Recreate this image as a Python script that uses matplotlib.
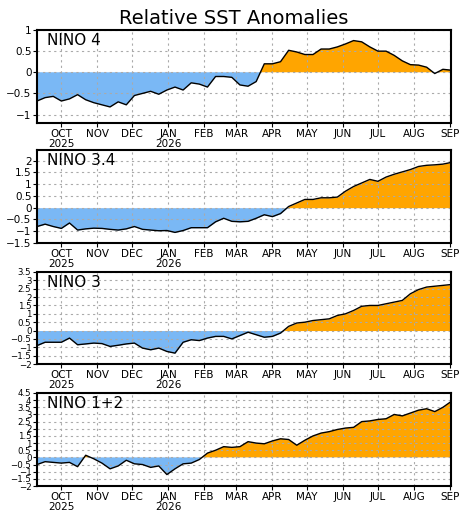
import matplotlib
matplotlib.use("Agg")
import matplotlib.pyplot as plt
import matplotlib.dates as mdates
import numpy as np
import pandas as pd

names = ["NINO 4", "NINO 3.4", "NINO 3", "NINO 1+2"]
nino4 = [-0.68,-0.6,-0.57,-0.68,-0.63,-0.53,-0.65,-0.72,-0.77,-0.82,-0.7,-0.77,-0.55,-0.5,-0.45,-0.52,-0.42,-0.35,-0.42,-0.25,-0.28,-0.35,-0.1,-0.1,-0.12,-0.3,-0.33,-0.22,0.2,0.2,0.25,0.52,0.48,0.42,0.42,0.55,0.55,0.6,0.67,0.75,0.72,0.6,0.5,0.5,0.4,0.27,0.18,0.17,0.12,-0.03,0.07,0.05]
nino34 = [-0.8,-0.7,-0.8,-0.88,-0.65,-0.95,-0.9,-0.87,-0.88,-0.92,-0.95,-0.9,-0.8,-0.92,-0.95,-0.98,-0.97,-1.05,-0.97,-0.85,-0.85,-0.85,-0.6,-0.45,-0.58,-0.6,-0.58,-0.45,-0.3,-0.38,-0.25,0.05,0.2,0.35,0.35,0.42,0.42,0.45,0.7,0.9,1.05,1.2,1.12,1.3,1.42,1.52,1.62,1.75,1.8,1.82,1.85,1.92]
nino3 = [-0.9,-0.7,-0.7,-0.7,-0.45,-0.85,-0.8,-0.75,-0.78,-0.95,-0.88,-0.8,-0.75,-1.05,-1.15,-1.05,-1.25,-1.35,-0.7,-0.55,-0.6,-0.45,-0.35,-0.35,-0.5,-0.3,-0.1,-0.25,-0.4,-0.35,-0.15,0.25,0.45,0.5,0.6,0.65,0.7,0.9,1.0,1.2,1.45,1.5,1.5,1.6,1.7,1.8,2.2,2.45,2.6,2.65,2.7,2.75]
nino12 = [-0.5,-0.3,-0.35,-0.4,-0.35,-0.65,0.15,-0.1,-0.4,-0.8,-0.6,-0.2,-0.45,-0.5,-0.7,-0.6,-1.2,-0.8,-0.45,-0.4,-0.15,0.3,0.5,0.75,0.7,0.75,1.1,1.0,0.95,1.15,1.3,1.25,0.85,1.2,1.5,1.7,1.8,1.95,2.05,2.1,2.5,2.55,2.65,2.7,3.0,2.9,3.1,3.3,3.4,3.2,3.5,3.9]
series = [nino4, nino34, nino3, nino12]
ylims = [(-1.2, 1.0), (-1.5, 2.45), (-2, 3.5), (-2, 4.5)]
ytick_sets = [np.arange(-1, 1.01, 0.5), np.arange(-1.5, 2.01, 0.5),
              np.arange(-2, 3.51, 0.5), np.arange(-2, 4.51, 0.5)]

def fmt(v):
    return ("%g" % v).replace("-", "\u2212")

fig = plt.figure(figsize=(4.67, 5.2), dpi=100)
fig.text(0.5, 0.965, "Relative SST Anomalies", ha="center", va="center", fontsize=14)
tops = [30, 150, 272, 393]
bots = [123, 243, 364, 486]
L, R = 37/467, 451/467
start = pd.Timestamp("2025-09-10")
for i in range(4):
    y = np.array(series[i], dtype=float)
    d = pd.date_range(start, periods=len(y), freq="7D")
    x = mdates.date2num(d)
    ax = fig.add_axes([L, 1 - bots[i]/520, R - L, (bots[i]-tops[i])/520])
    ax.fill_between(x, y, 0, where=y >= 0, interpolate=True, color="#ffa500", lw=0)
    ax.fill_between(x, y, 0, where=y <= 0, interpolate=True, color="#7ab8f5", lw=0)
    ax.plot(x, y, color="black", lw=1)
    ax.set_xlim(x[0], x[-1])
    ax.set_ylim(*ylims[i])
    ax.set_yticks(ytick_sets[i])
    ax.set_yticklabels([fmt(v) for v in ytick_sets[i]], fontsize=7.5 if i < 2 else 6.2)
    months = pd.date_range("2025-10-01", "2026-09-01", freq="MS")
    ax.set_xticks(mdates.date2num(months))
    labs = []
    for m in months:
        s = m.strftime("%b").upper()
        if m.month in (10, 1):
            s += "\n" + str(m.year)
        labs.append(s)
    ax.set_xticklabels(labs, fontsize=7.5, linespacing=1.0)
    ax.grid(True, color="#aaaaaa", ls=(0, (2, 3)), lw=0.8)
    ax.tick_params(length=3, pad=1)
    for sp in ax.spines.values():
        sp.set_linewidth(1.5)
    ax.text(0.025, 0.97, names[i], transform=ax.transAxes, ha="left", va="top", fontsize=11)
fig.savefig("out.png", dpi=100)
